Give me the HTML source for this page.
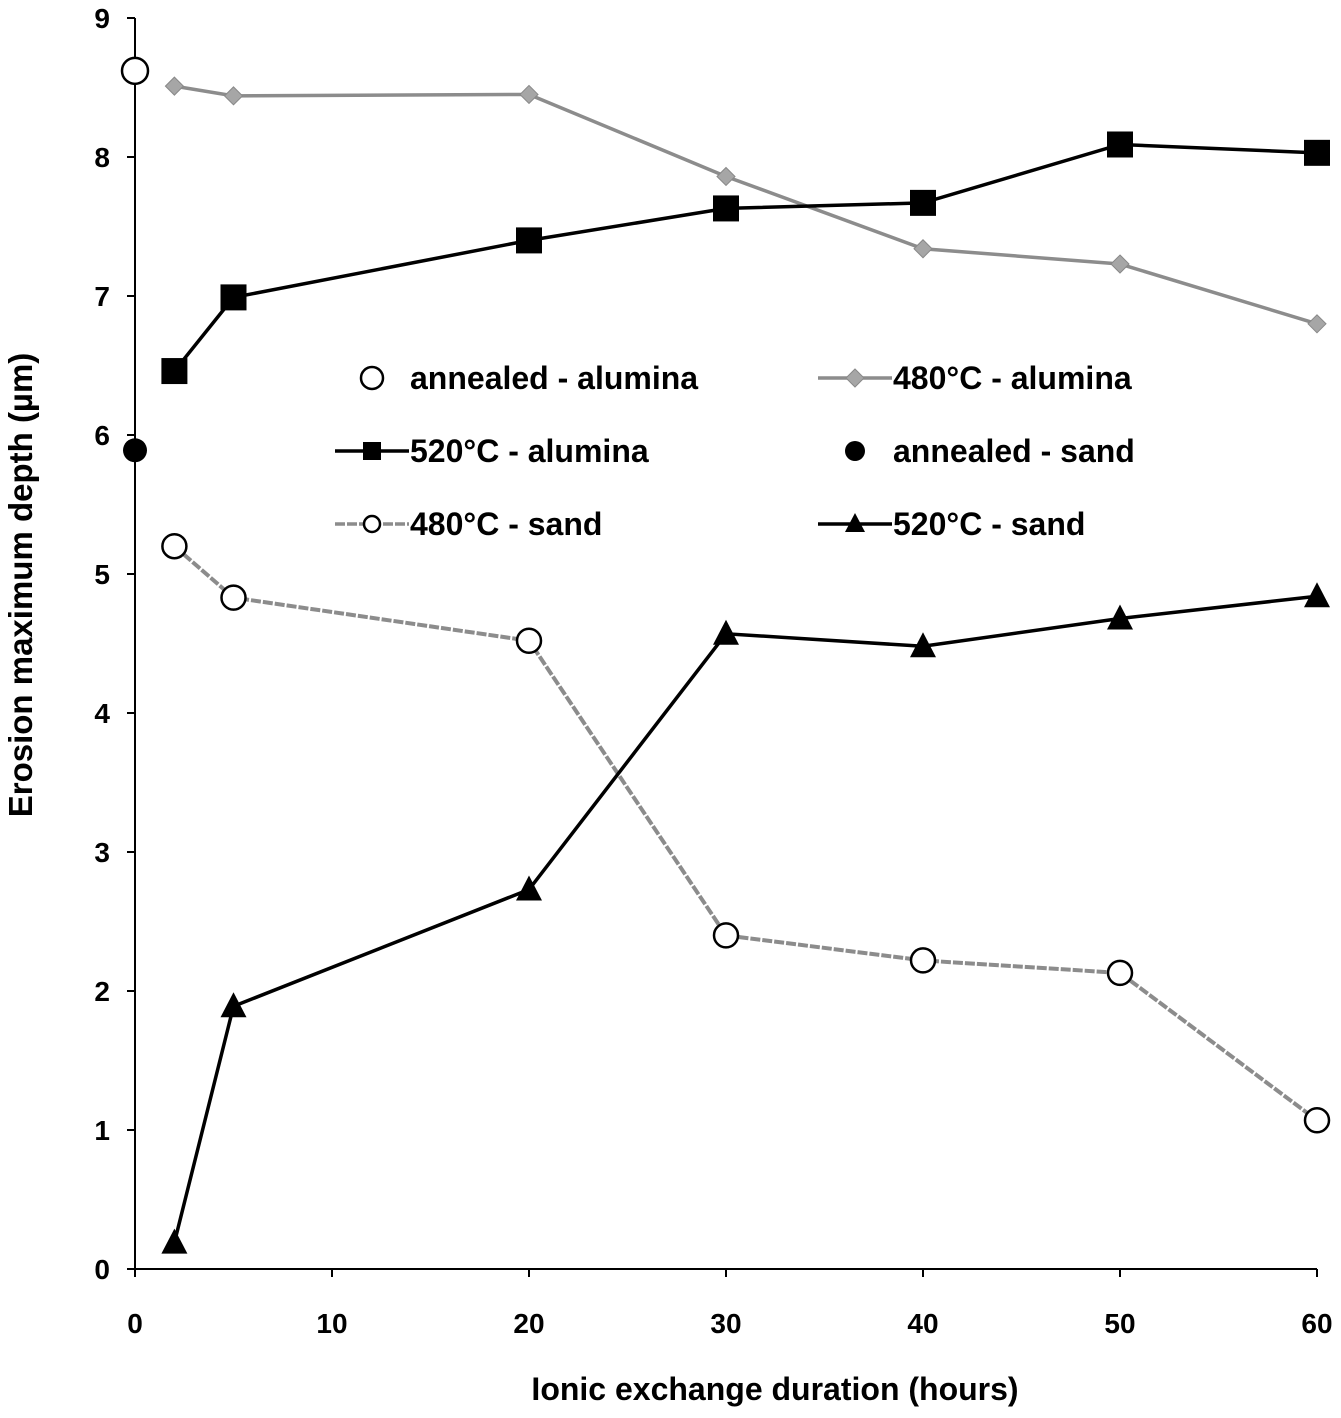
<!DOCTYPE html>
<html><head><meta charset="utf-8"><style>
html,body{margin:0;padding:0;background:#fff}
svg{display:block;font-family:"Liberation Sans",sans-serif;font-weight:bold}
</style></head><body>
<svg id="chart" width="1341" height="1418" viewBox="0 0 1341 1418" xmlns="http://www.w3.org/2000/svg">
<g id="axes"></g><g id="series"></g><g id="legend"></g>
</svg>
<script>
const xTicks=[0,10,20,30,40,50,60];
const yTicks=[0,1,2,3,4,5,6,7,8,9];
const hours=[2,5,20,30,40,50,60];
const alumina480=[8.51,8.44,8.45,7.86,7.34,7.23,6.80];
const alumina520=[6.46,6.99,7.40,7.63,7.67,8.09,8.03];
const sand480=[5.20,4.83,4.52,2.40,2.22,2.13,1.07];
const sand520=[0.19,1.89,2.73,4.57,4.48,4.68,4.84];
const annealedAlumina=[8.62];
const annealedSand=[5.89];
const annealedX=[0];

const NS="http://www.w3.org/2000/svg";
const X=v=>135+v*(1317-135)/60;
const Y=v=>1269-v*(1269-18)/9;
function mk(tag,attrs,parent){const e=document.createElementNS(NS,tag);for(const k in attrs)e.setAttribute(k,attrs[k]);parent.appendChild(e);return e;}
const axes=document.getElementById('axes'),ser=document.getElementById('series'),leg=document.getElementById('legend');

let a=mk('line',{x1:135,y1:18,x2:135,y2:1269,stroke:'#000','stroke-width':2},axes);


a=mk('line',{x1:135,y1:1269,x2:1317,y2:1269,stroke:'#000','stroke-width':2},axes);


yTicks.forEach(v=>{
 const t=mk('line',{x1:127,y1:Y(v),x2:135,y2:Y(v),stroke:'#000','stroke-width':2},axes);
 
 
 const l=mk('text',{x:110,y:Y(v)+10,'text-anchor':'end','font-size':28},axes);l.textContent=v;
 
 
});
xTicks.forEach(v=>{
 const t=mk('line',{x1:X(v),y1:1269,x2:X(v),y2:1277,stroke:'#000','stroke-width':2},axes);
 
 
 const l=mk('text',{x:X(v),y:1333,'text-anchor':'middle','font-size':28},axes);l.textContent=v;
 
 
});
let tt=mk('text',{x:775,y:1400,'text-anchor':'middle','font-size':32},axes);tt.textContent='Ionic exchange duration (hours)';


tt=mk('text',{x:0,y:0,'text-anchor':'middle','font-size':33,transform:'translate(32,585) rotate(-90)'},axes);tt.textContent='Erosion maximum depth (µm)';



function marker(type,x,y,g){
 if(type==='square')return mk('rect',{x:x-13,y:y-13,width:26,height:26,fill:'#000'},g);
 if(type==='diamond')return mk('path',{d:`M${x},${y-9}L${x+9},${y}L${x},${y+9}L${x-9},${y}Z`,fill:'#a6a6a6',stroke:'#888','stroke-width':1},g);
 if(type==='triangle')return mk('path',{d:`M${x},${y-14}L${x+13},${y+11}L${x-13},${y+11}Z`,fill:'#000'},g);
 if(type==='opencircle')return mk('circle',{cx:x,cy:y,r:13,fill:'#fff',stroke:'#000','stroke-width':2.5},g);
 if(type==='smallcircle')return mk('circle',{cx:x,cy:y,r:12,fill:'#fff',stroke:'#000','stroke-width':2.5},g);
 if(type==='dot')return mk('circle',{cx:x,cy:y,r:12,fill:'#000'},g);
}
function series(name,xs,ys,type,color,width,dash){
 const g=mk('g',{},ser);
 
 
 if(color){const p=mk('polyline',{points:xs.map((x,i)=>X(x)+','+Y(ys[i])).join(' '),fill:'none',stroke:color,'stroke-width':width},g);if(dash)p.setAttribute('stroke-dasharray',dash);}
 xs.forEach((x,i)=>{const m=marker(type,X(x),Y(ys[i]),g);
  
  });
}
series('series-480-alumina',hours,alumina480,'diamond','#8c8c8c',3.5);
series('series-520-alumina',hours,alumina520,'square','#000',3.5);
series('series-480-sand',hours,sand480,'smallcircle','#8c8c8c',4,'10 2');
series('series-520-sand',hours,sand520,'triangle','#000',3.5);
series('series-annealed-alumina',annealedX,annealedAlumina,'opencircle',null);
series('series-annealed-sand',annealedX,annealedSand,'dot',null);

const items=[['annealed - alumina','opencircle',null,372,378,410],['480°C - alumina','diamond','#8c8c8c',855,378,893],
['520°C - alumina','square','#000',372,451,410],['annealed - sand','dot',null,855,451,893],
['480°C - sand','smallcircle','#8c8c8c',372,524,410],['520°C - sand','triangle','#000',855,524,893]];
items.forEach(it=>{
 const g=mk('g',{},leg);
 
 
 if(it[2]){const ln=mk('line',{x1:it[3]-37,y1:it[4],x2:it[3]+37,y2:it[4],stroke:it[2],'stroke-width':3.5},g);if(it[1]==='smallcircle')ln.setAttribute('stroke-dasharray','10 2');}
 const m=marker(it[1],it[3],it[4],g);
 if(it[1]==='opencircle'){m.setAttribute('r',11);}
 if(it[1]==='dot'){m.setAttribute('r',10);}
 if(it[1]==='square'){m.setAttribute('x',it[3]-9);m.setAttribute('y',it[4]-9);m.setAttribute('width',18);m.setAttribute('height',18);}
 if(it[1]==='smallcircle'){m.setAttribute('r',8);}
 if(it[1]==='triangle'){m.setAttribute('d',`M${it[3]},${it[4]-11}L${it[3]+10},${it[4]+8}L${it[3]-10},${it[4]+8}Z`);}
 const t=mk('text',{x:it[5],y:it[4]+11,'font-size':32},g);t.textContent=it[0];
});
</script>
</body></html>
